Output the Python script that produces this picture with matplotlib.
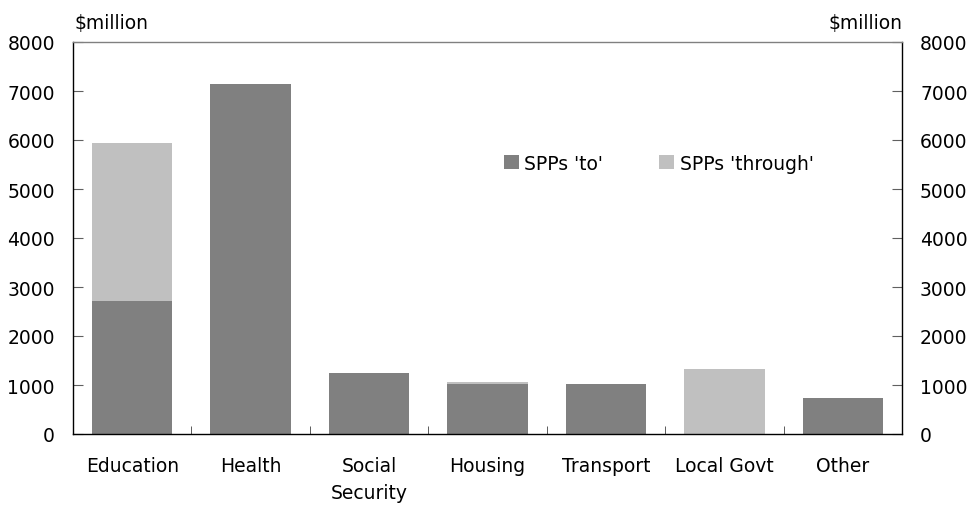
import matplotlib
matplotlib.use("Agg")
import matplotlib.pyplot as plt
import numpy as np

categories = ["Education", "Health", "Social\nSecurity", "Housing", "Transport", "Local Govt", "Other"]
spp_to = [2710, 7140, 1250, 1020, 1015, 0, 735]
spp_through = [3230, 0, 0, 35, 0, 1330, 0]
yticks = [0, 1000, 2000, 3000, 4000, 5000, 6000, 7000, 8000]

dark = "#808080"
light = "#c0c0c0"

plt.rcParams['font.family'] = ['DejaVu Sans']
fig = plt.figure(figsize=(9.67, 5.06), dpi=100)
ax = fig.add_axes([73/967, (506-435)/506, (902-73)/967, (435-43)/506])

x = np.arange(len(categories))
w = 0.68
ax.bar(x, spp_to, width=w, color=dark, label="SPPs 'to'")
ax.bar(x, spp_through, width=w, bottom=spp_to, color=light, label="SPPs 'through'")

ax.set_xlim(-0.5, len(categories) - 0.5)
ax.set_ylim(0, 8000)
ax.set_yticks(yticks)
ax.set_yticklabels([str(v) for v in yticks])
ax.set_xticks(x)
ax.set_xticklabels(categories, fontsize=13.5, linespacing=1.55)
ax.set_xticks(np.arange(0.5, len(categories) - 1, 1), minor=True)
ax.tick_params(axis='x', which='major', length=0, pad=16)
ax.tick_params(axis='x', which='minor', direction='in', length=6, color='#404040')
ax.tick_params(axis='y', which='major', direction='in', length=7, color='#606060',
               labelsize=13.5, right=True, labelright=True)
for t in ax.yaxis.get_major_ticks():
    t.set_pad(13)

ax.spines['left'].set_color('black')
ax.spines['bottom'].set_color('black')
ax.spines['right'].set_color('black')
ax.spines['top'].set_color('#808080')
for s in ax.spines.values():
    s.set_linewidth(1.0)

fig.text(75/967, 1 - 23/506, "$million", fontsize=13.5, ha='left', va='center')
fig.text(902/967, 1 - 23/506, "$million", fontsize=13.5, ha='right', va='center')

leg = ax.legend(loc='center left', bbox_to_anchor=((496-73)/829, (435-164)/392), ncol=2,
                frameon=False, fontsize=13.5, handlelength=0.8, handleheight=0.8,
                handletextpad=0.3, columnspacing=3.0, borderaxespad=0)

fig.savefig("out.png", dpi=100)
